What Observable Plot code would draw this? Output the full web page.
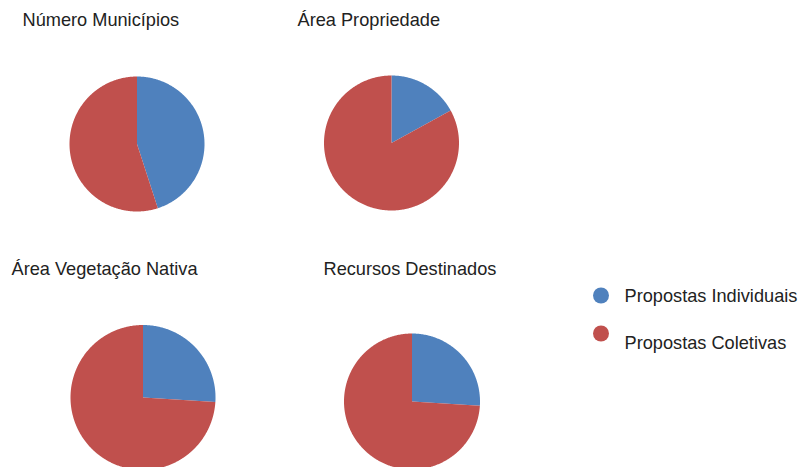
<!DOCTYPE html>
<html><head><meta charset="utf-8">
<script src="https://cdn.jsdelivr.net/npm/d3@7"></script>
<script src="https://cdn.jsdelivr.net/npm/@observablehq/plot@0.6"></script>
<style>body{margin:0;background:#fff} svg{display:block}</style>
</head><body><div id="chart"></div>
<script>
// ---- data ----
const categories = ["Número Municípios", "Área Propriedade", "Área Vegetação Nativa", "Recursos Destinados"];
const seriesNames = ["Propostas Individuais", "Propostas Coletivas"];
const individuais = [45, 17, 26, 26];
const coletivas = [55, 83, 74, 74];

// ---- style / layout ----
const colors = ["#4f81bd", "#c0504d"];
const W = 799, H = 467, FS = 18.2;
const layout = [
  {cx: 136.5, cy: 143.5, r: 67.5, tx: 22, tb: 25.5},
  {cx: 391,   cy: 142.5, r: 67.5, tx: 297, tb: 25.5},
  {cx: 142.5, cy: 397,   r: 72.5, tx: 11,  tb: 274.5},
  {cx: 411.5, cy: 401,   r: 68,   tx: 323, tb: 274.5}
];
const legendLayout = [
  {dx: 600.5, dy: 295, tx: 624, tb: 301},
  {dx: 600.5, dy: 333, tx: 624, tb: 348.5}
];

// pie slices as polygons via d3.pie
const slices = [];
categories.forEach((cat, i) => {
  const vals = [individuais[i], coletivas[i]];
  const arcs = d3.pie().sort(null)(vals);
  const {cx, cy, r} = layout[i];
  arcs.forEach((a, j) => {
    const n = Math.max(2, Math.ceil((a.endAngle - a.startAngle) / (Math.PI / 360)));
    const key = cat + "|" + j;
    slices.push({x: cx, y: cy, key, serie: seriesNames[j]});
    for (let k = 0; k <= n; k++) {
      const t = a.startAngle + (a.endAngle - a.startAngle) * k / n;
      slices.push({x: cx + r * Math.sin(t), y: cy - r * Math.cos(t), key, serie: seriesNames[j]});
    }
    slices.push({x: cx, y: cy, key, serie: seriesNames[j]});
  });
});

const chart = Plot.plot({
  width: W, height: H, margin: 0,
  x: {domain: [0, W], range: [0, W], axis: null},
  y: {domain: [0, H], range: [0, H], axis: null},
  color: {domain: seriesNames, range: colors},
  style: {fontFamily: "'Liberation Sans', Arial, sans-serif", background: "#fff"},
  marks: [
    Plot.line(slices, {x: "x", y: "y", z: "key", fill: "serie", stroke: "none", curve: "linear"}),
    Plot.text(categories, {
      x: (d, i) => layout[i].tx, y: (d, i) => layout[i].tb - 0.32 * FS,
      text: d => d, textAnchor: "start", fontSize: FS, fill: "#222"
    }),
    Plot.dot(seriesNames, {
      x: (d, i) => legendLayout[i].dx, y: (d, i) => legendLayout[i].dy,
      r: 8, fill: d => d, stroke: "none"
    }),
    Plot.text(seriesNames, {
      x: (d, i) => legendLayout[i].tx, y: (d, i) => legendLayout[i].tb - 0.32 * FS,
      text: d => d, textAnchor: "start", fontSize: FS, fill: "#222"
    })
  ]
});
document.getElementById("chart").appendChild(chart);
</script>
</body></html>
